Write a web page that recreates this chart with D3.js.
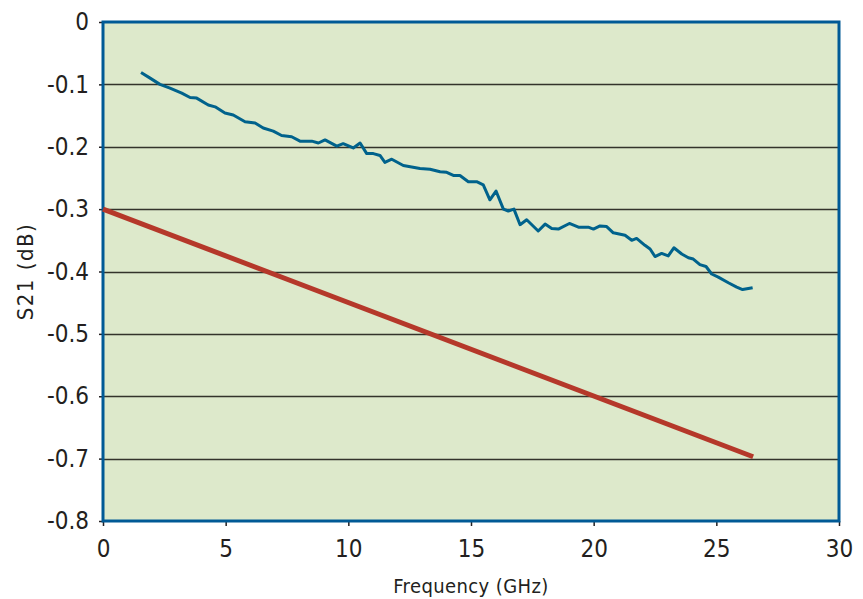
<!DOCTYPE html>
<html>
<head>
<meta charset="utf-8">
<script src="https://cdnjs.cloudflare.com/ajax/libs/d3/7.8.5/d3.min.js"></script>
<style>
  body { margin: 0; background: #fff; }
  text { font-family: "Liberation Sans Narrow", "DejaVu Sans Condensed", "Roboto", sans-serif; fill: #231f20; }
</style>
</head>
<body>
<div id="chart"></div>
<script>
// measured S21 curve (GHz, dB)
var measFreq = [1.55, 1.92, 2.32, 2.73, 3.21, 3.55, 3.82, 4.29, 4.57, 4.97, 5.31, 5.79, 6.20, 6.53, 6.94, 7.28, 7.69, 8.03, 8.51, 8.78,
  9.05, 9.53, 9.79, 10.20, 10.48, 10.75, 11.02, 11.29, 11.49, 11.77, 12.24, 12.92, 13.33, 13.74, 14.01, 14.28, 14.55, 14.89, 15.23, 15.50,
  15.77, 16.02, 16.32, 16.52, 16.75, 17.00, 17.27, 17.74, 18.02, 18.29, 18.56, 19.01, 19.38, 19.78, 19.99, 20.26, 20.53, 20.80, 21.28, 21.55,
  21.75, 22.09, 22.30, 22.50, 22.77, 23.04, 23.27, 23.59, 23.86, 24.06, 24.33, 24.58, 24.81, 25.08, 25.49, 25.83, 26.07, 26.48];
var measS21 = [-0.081, -0.090, -0.100, -0.106, -0.114, -0.121, -0.122, -0.133, -0.136, -0.146, -0.149, -0.160, -0.162, -0.170, -0.175, -0.182, -0.184, -0.191, -0.191, -0.194,
  -0.189, -0.199, -0.195, -0.202, -0.194, -0.211, -0.211, -0.214, -0.225, -0.220, -0.230, -0.235, -0.236, -0.240, -0.241, -0.246, -0.246, -0.256, -0.256, -0.261,
  -0.285, -0.271, -0.300, -0.303, -0.300, -0.325, -0.317, -0.335, -0.324, -0.331, -0.332, -0.323, -0.329, -0.329, -0.332, -0.327, -0.328, -0.338, -0.342, -0.350,
  -0.347, -0.358, -0.364, -0.376, -0.371, -0.375, -0.362, -0.372, -0.378, -0.380, -0.389, -0.392, -0.404, -0.409, -0.418, -0.425, -0.429, -0.426];
// limit line
var limitFreq = [0, 26.5];
var limitS21 = [-0.3, -0.697];

var xTicks = [0, 5, 10, 15, 20, 25, 30];
var yTicks = [0, -0.1, -0.2, -0.3, -0.4, -0.5, -0.6, -0.7, -0.8];

var width = 863, height = 599;
var margin = {left: 103, right: 24, top: 22, bottom: 78};

var svg = d3.select("#chart").append("svg")
    .attr("width", width)
    .attr("height", height);

var x = d3.scaleLinear().domain([0, 30]).range([margin.left, width - margin.right]);
var y = d3.scaleLinear().domain([-0.8, 0]).range([height - margin.bottom, margin.top]);

svg.append("rect")
    .attr("x", x(0)).attr("y", y(0))
    .attr("width", x(30) - x(0)).attr("height", y(-0.8) - y(0))
    .attr("fill", "#dde9cb");

// gridlines
svg.selectAll(".grid")
    .data(yTicks.filter(function(d) { return d < 0 && d > -0.8; }))
    .enter().append("line")
      .attr("class", "grid")
      .attr("x1", x(0)).attr("x2", x(30))
      .attr("y1", function(d) { return Math.round(y(d)) + 0.5; })
      .attr("y2", function(d) { return Math.round(y(d)) + 0.5; })
      .attr("stroke", "#33332b")
      .attr("stroke-width", 1.3);

var yAxis = svg.append("g")
    .attr("transform", "translate(" + x(0) + ",0)")
    .call(d3.axisLeft(y).tickValues(yTicks).tickSize(4).tickPadding(10)
      .tickFormat(function(d) { return d === 0 ? "0" : d3.format(".1f")(d).replace("−", "-"); }));

var xAxis = svg.append("g")
    .attr("transform", "translate(0," + y(-0.8) + ")")
    .call(d3.axisBottom(x).tickValues(xTicks).tickSize(5).tickPadding(14));

[xAxis, yAxis].forEach(function(a) {
  a.select(".domain").remove();
  a.selectAll(".tick line").attr("stroke", "#231f20").attr("stroke-width", 1.5);
  a.selectAll("text").style("font-size", "24px").attr("fill", "#231f20");
});

// plot border
svg.append("rect")
    .attr("x", x(0)).attr("y", y(0))
    .attr("width", x(30) - x(0)).attr("height", y(-0.8) - y(0))
    .attr("fill", "none")
    .attr("stroke", "#005a96")
    .attr("stroke-width", 3);

var line = d3.line()
    .x(function(d) { return x(d[0]); })
    .y(function(d) { return y(d[1]); });

svg.append("path")
    .datum(d3.zip(limitFreq, limitS21))
    .attr("d", line)
    .attr("fill", "none")
    .attr("stroke", "#b5382a")
    .attr("stroke-width", 5);

svg.append("path")
    .datum(d3.zip(measFreq, measS21))
    .attr("d", line)
    .attr("fill", "none")
    .attr("stroke", "#00628c")
    .attr("stroke-width", 3)
    .attr("stroke-linejoin", "round");

svg.append("text")
    .attr("x", (x(0) + x(30)) / 2)
    .attr("y", 593)
    .attr("text-anchor", "middle")
    .style("font-size", "20px")
    .style("letter-spacing", "0.4px")
    .text("Frequency (GHz)");

svg.append("text")
    .attr("transform", "translate(33," + ((y(0) + y(-0.8)) / 2) + ") rotate(-90)")
    .attr("text-anchor", "middle")
    .style("font-size", "22px")
    .style("letter-spacing", "1.5px")
    .text("S21 (dB)");
</script>
</body>
</html>
